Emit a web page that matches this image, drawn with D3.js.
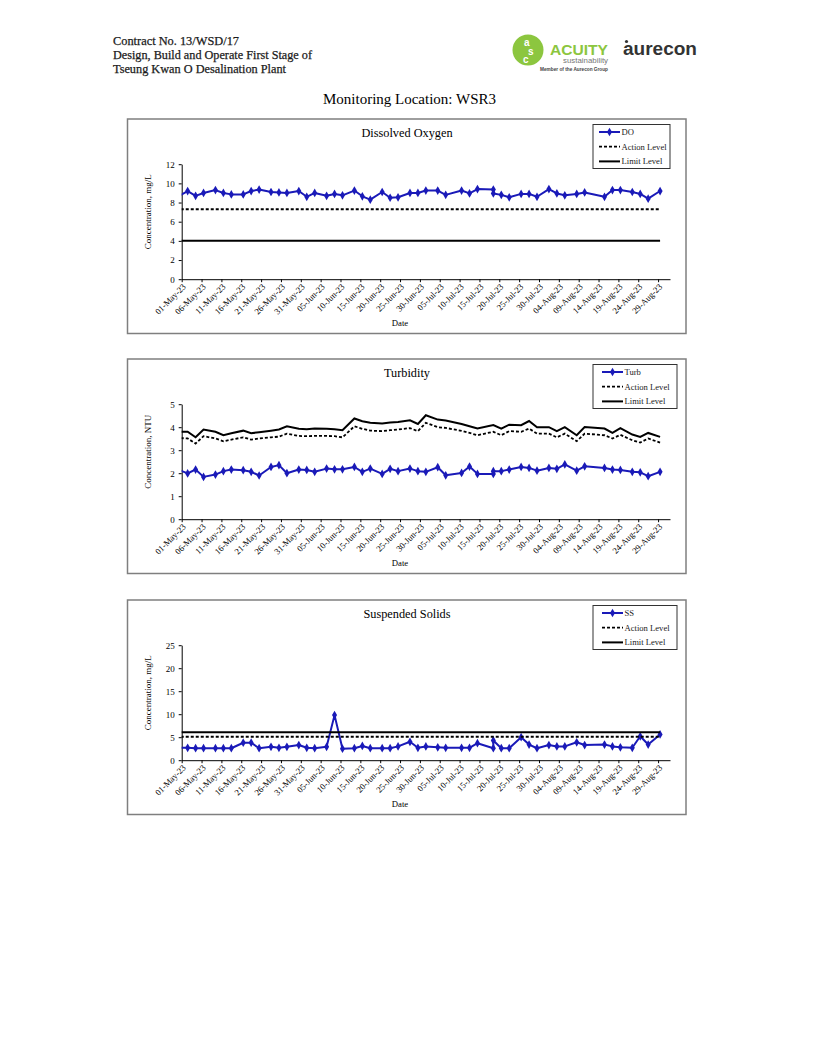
<!DOCTYPE html>
<html><head><meta charset="utf-8">
<script src="https://cdn.jsdelivr.net/npm/d3@7"></script>
<style>body{margin:0;background:#fff;} svg{display:block;}</style>
</head><body>
<svg id="page" width="816" height="1056"></svg>
<script>
// ---------------- DATA ----------------
const headerLines = ["Contract No. 13/WSD/17", "Design, Build and Operate First Stage of", "Tseung Kwan O Desalination Plant"];
const pageTitle = "Monitoring Location: WSR3";

const sampleDates = ["2023-04-29","2023-05-02","2023-05-04","2023-05-06","2023-05-09","2023-05-11","2023-05-13",
  "2023-05-16","2023-05-18","2023-05-20","2023-05-23","2023-05-25","2023-05-27","2023-05-30","2023-06-01",
  "2023-06-03","2023-06-06","2023-06-08","2023-06-10","2023-06-13","2023-06-15","2023-06-17","2023-06-20",
  "2023-06-22","2023-06-24","2023-06-27","2023-06-29","2023-07-01","2023-07-04","2023-07-06","2023-07-10",
  "2023-07-12","2023-07-14","2023-07-18","2023-07-18","2023-07-20","2023-07-22","2023-07-25","2023-07-27",
  "2023-07-29","2023-08-01","2023-08-03","2023-08-05","2023-08-08","2023-08-10","2023-08-15","2023-08-17",
  "2023-08-19","2023-08-22","2023-08-24","2023-08-26","2023-08-29"];

const doValues = [8.5, 9.2,8.7,9.0,9.3,9.0,8.85,8.85,9.2,9.35,9.1,9.05,9.0,9.2,8.6,9.0,8.7,8.9,8.75,9.25,8.65,
  8.3,9.1,8.5,8.55,9.0,9.0,9.25,9.25,8.8,9.25,8.95,9.4,9.35,8.95,8.8,8.55,8.9,8.9,8.6,9.4,8.95,8.75,8.9,9.05,
  8.6,9.3,9.3,9.1,8.9,8.4,9.2];
const doActionLevel = 7.3;
const doLimitLevel = 4.0;

const turbValues = [2.2, 1.99,2.16,1.84,1.94,2.09,2.16,2.13,2.06,1.90,2.27,2.35,2.00,2.16,2.14,2.06,2.20,2.17,
  2.17,2.27,2.06,2.20,1.97,2.19,2.09,2.20,2.09,2.06,2.26,1.91,2.01,2.29,1.97,1.97,2.09,2.09,2.16,2.27,2.23,
  2.11,2.23,2.19,2.38,2.11,2.30,2.23,2.16,2.14,2.06,2.04,1.87,2.06];
const turbAction = [3.54, 3.51,3.29,3.61,3.51,3.39,3.46,3.56,3.46,3.51,3.56,3.59,3.72,3.62,3.61,3.62,3.62,3.61,
  3.56,4.04,3.93,3.85,3.83,3.87,3.90,3.96,3.83,4.19,4.00,3.97,3.84,3.75,3.65,3.80,3.80,3.65,3.83,3.80,3.94,
  3.72,3.72,3.56,3.72,3.39,3.72,3.65,3.51,3.67,3.43,3.33,3.51,3.33];
const turbLimit = [3.80, 3.80,3.56,3.90,3.80,3.65,3.74,3.85,3.74,3.78,3.85,3.90,4.04,3.93,3.91,3.94,3.93,3.91,
  3.87,4.38,4.26,4.19,4.16,4.20,4.23,4.30,4.14,4.52,4.33,4.29,4.14,4.04,3.94,4.09,4.09,3.94,4.11,4.09,4.27,
  4.00,4.00,3.83,4.00,3.65,4.01,3.94,3.75,3.96,3.68,3.58,3.75,3.58];

const ssValues = [2.7, 2.7,2.6,2.6,2.6,2.6,2.6,3.8,3.8,2.6,2.9,2.7,2.9,3.3,2.7,2.6,2.9,9.8,2.5,2.6,3.1,2.6,2.6,
  2.6,3.0,4.0,2.7,3.0,2.8,2.7,2.7,2.7,3.7,2.6,4.3,2.6,2.6,5.0,3.4,2.6,3.3,3.0,3.0,3.9,3.3,3.4,3.0,2.8,2.7,
  5.2,3.4,5.6];
const ssActionLevel = 5.1;
const ssLimitLevel = 6.1;

const xAxisBounds = ["2023-05-01", "2023-09-01"];
const xTickLabels = ["01-May-23","06-May-23","11-May-23","16-May-23","21-May-23","26-May-23","31-May-23",
  "05-Jun-23","10-Jun-23","15-Jun-23","20-Jun-23","25-Jun-23","30-Jun-23","05-Jul-23","10-Jul-23","15-Jul-23",
  "20-Jul-23","25-Jul-23","30-Jul-23","04-Aug-23","09-Aug-23","14-Aug-23","19-Aug-23","24-Aug-23","29-Aug-23"];
const doYTicks = [0,2,4,6,8,10,12];
const turbYTicks = [0,1,2,3,4,5];
const ssYTicks = [0,5,10,15,20,25];
const levelNames = ["Action Level", "Limit Level"];

// ---------------- DRAW ----------------
const svg = d3.select("#page");
const serif = "'Liberation Serif', 'Times New Roman', serif";
const sans = "'Liberation Sans', Arial, sans-serif";
const blue = "#1a1ab8";

// header
const headerWidths = [126, 199, 173];
headerLines.forEach((t, i) => {
  svg.append("text").attr("x", 113).attr("y", 45 + i * 14.2)
    .attr("font-family", serif).attr("font-size", 12.5).attr("fill", "#1a1a1a")
    .attr("textLength", headerWidths[i]).attr("lengthAdjust", "spacingAndGlyphs")
    .attr("stroke", "#1a1a1a").attr("stroke-width", 0.25)
    .text(t);
});

// logos
const logo = svg.append("g");
logo.append("circle").attr("cx", 528).attr("cy", 50).attr("r", 15.5).attr("fill", "#8cc63f");
const mono = logo.append("text").attr("font-family", sans).attr("font-weight", "bold")
  .attr("font-size", 10).attr("fill", "#fff");
mono.append("tspan").attr("x", 524).attr("y", 46).text("a");
mono.append("tspan").attr("x", 528).attr("y", 55).text("s");
mono.append("tspan").attr("x", 523).attr("y", 63).text("c");
logo.append("text").attr("x", 550).attr("y", 54.5).attr("font-family", sans).attr("font-weight", "bold")
  .attr("font-size", 15).attr("fill", "#8cc63f").attr("textLength", 58).attr("lengthAdjust", "spacingAndGlyphs").text("ACUITY");
logo.append("text").attr("x", 563).attr("y", 62.5).attr("font-family", sans)
  .attr("font-size", 7).attr("fill", "#777").attr("textLength", 45).attr("lengthAdjust", "spacingAndGlyphs").text("sustainability");
logo.append("text").attr("x", 540).attr("y", 71).attr("font-family", sans).attr("font-weight", "bold")
  .attr("font-size", 4.5).attr("fill", "#444").attr("textLength", 68).attr("lengthAdjust", "spacingAndGlyphs").text("Member of the Aurecon Group");
logo.append("text").attr("x", 623).attr("y", 54.5).attr("font-family", sans).attr("font-weight", "bold")
  .attr("font-size", 18).attr("fill", "#333").attr("textLength", 74).attr("lengthAdjust", "spacingAndGlyphs").text("aurecon");
logo.append("circle").attr("cx", 626.5).attr("cy", 41.5).attr("r", 1.6).attr("fill", "#333");

// page title
svg.append("text").attr("x", 409.5).attr("y", 104.3).attr("text-anchor", "middle")
  .attr("font-family", serif).attr("font-size", 15).attr("fill", "#000").text(pageTitle);

const parseDate = d3.timeParse("%Y-%m-%d");
const parseTick = d3.timeParse("%d-%b-%y");
const sampleTime = s => d3.timeHour.offset(parseDate(s), 12);
const xTickDates = xTickLabels.map(parseTick);
const xDomain = xAxisBounds.map(parseDate);

const charts = [
  { key: "do", top: 119, title: "Dissolved Oxygen", yLabel: "Concentration, mg/L", yTicks: doYTicks,
    name: "DO", values: doValues, action: [doActionLevel, doActionLevel], limit: [doLimitLevel, doLimitLevel],
    constant: true, legendW: 77 },
  { key: "turb", top: 359, title: "Turbidity", yLabel: "Concentration, NTU", yTicks: turbYTicks,
    name: "Turb", values: turbValues, action: turbAction, limit: turbLimit, constant: false, legendW: 84 },
  { key: "ss", top: 600, title: "Suspended Solids", yLabel: "Concentration, mg/L", yTicks: ssYTicks,
    name: "SS", values: ssValues, action: [ssActionLevel, ssActionLevel], limit: [ssLimitLevel, ssLimitLevel],
    constant: true, legendW: 84 }
];

const plotLeft = 181.7, plotRight = 670, plotH = 115;
const defs = svg.append("defs");

charts.forEach(cfg => {
  const top = cfg.top;
  const g = svg.append("g");
  g.append("rect").attr("x", 127.5).attr("y", top).attr("width", 558.5).attr("height", 214.5)
    .attr("fill", "#fff").attr("stroke", "#7f7f7f").attr("stroke-width", 1.5);
  const plotTop = top + 45.2, plotBottom = plotTop + plotH;
  const x = d3.scaleTime().domain(xDomain).range([plotLeft, plotRight]);
  const y = d3.scaleLinear().domain([0, d3.max(cfg.yTicks)]).range([plotBottom, plotTop]);

  defs.append("clipPath").attr("id", "clip-" + cfg.key).append("rect")
    .attr("x", plotLeft).attr("y", plotTop - 20).attr("width", plotRight - plotLeft).attr("height", plotH + 40);

  // title
  g.append("text").attr("x", 407).attr("y", top + 17.5).attr("text-anchor", "middle")
    .attr("font-family", serif).attr("font-size", 12.3).text(cfg.title);

  // axes
  const xAxis = d3.axisBottom(x).tickValues(xTickDates).tickFormat((d, i) => xTickLabels[i])
    .tickSize(3).tickSizeOuter(0);
  const gx = g.append("g").attr("transform", `translate(0,${plotBottom})`).call(xAxis);
  gx.selectAll("text").attr("x", 0).attr("y", 0).attr("dy", "0.35em")
    .attr("transform", "translate(2,6) rotate(-45)").attr("text-anchor", "end")
    .attr("font-family", serif).attr("font-size", 8.7).attr("fill", "#000");
  const yAxis = d3.axisLeft(y).tickValues(cfg.yTicks).tickFormat(d3.format("d"))
    .tickSize(3).tickSizeOuter(0).tickPadding(4);
  const gy = g.append("g").attr("transform", `translate(${plotLeft},0)`).call(yAxis);
  gy.selectAll("text").attr("font-family", serif).attr("font-size", 9).attr("fill", "#000");
  [gx, gy].forEach(a => { a.select(".domain").attr("stroke", "#000"); a.selectAll(".tick line").attr("stroke", "#000"); });

  g.append("text").attr("transform", `translate(151,${plotTop + 47.5}) rotate(-90)`).attr("text-anchor", "middle")
    .attr("font-family", serif).attr("font-size", 9).text(cfg.yLabel);
  g.append("text").attr("x", 400).attr("y", top + 206.5).attr("text-anchor", "middle")
    .attr("font-family", serif).attr("font-size", 8.7).text("Date");

  // series
  const clipG = g.append("g").attr("clip-path", `url(#clip-${cfg.key})`);
  const line = d3.line().x(d => x(d.t)).y(d => y(d.v));
  const levelDates = cfg.constant ? [sampleDates[0], sampleDates[sampleDates.length - 1]] : sampleDates;
  const actionPts = cfg.action.map((v, i) => ({ t: sampleTime(levelDates[i]), v }));
  const limitPts = cfg.limit.map((v, i) => ({ t: sampleTime(levelDates[i]), v }));
  const dataPts = cfg.values.map((v, i) => ({ t: sampleTime(sampleDates[i]), v }));

  clipG.append("path").datum(dataPts).attr("d", line).attr("fill", "none").attr("stroke", blue)
    .attr("stroke-width", 2).attr("stroke-linejoin", "round");
  clipG.selectAll("path.mk").data(dataPts).join("path").attr("class", "mk")
    .attr("transform", d => `translate(${x(d.t)},${y(d.v)})`)
    .attr("d", d3.symbol().type(d3.symbolDiamond).size(22)).attr("fill", blue);
  clipG.append("path").datum(actionPts).attr("d", line).attr("fill", "none").attr("stroke", "#000")
    .attr("stroke-width", 1.8).attr("stroke-dasharray", "3,2");
  clipG.append("path").datum(limitPts).attr("d", line).attr("fill", "none").attr("stroke", "#000")
    .attr("stroke-width", 2);

  // legend
  const lx = 593, ly = top + 5.5;
  const lg = g.append("g");
  lg.append("rect").attr("x", lx).attr("y", ly).attr("width", cfg.legendW).attr("height", 44)
    .attr("fill", "#fff").attr("stroke", "#333").attr("stroke-width", 1);
  const s0 = lx + (cfg.key === "do" ? 6 : 9), s1 = s0 + 21;
  const names = [cfg.name].concat(levelNames);
  names.forEach((n, i) => {
    const yy = ly + 7.5 + i * 14.7;
    const ln = lg.append("line").attr("x1", s0).attr("x2", s1).attr("y1", yy).attr("y2", yy)
      .attr("stroke", i === 0 ? blue : "#000").attr("stroke-width", i === 0 ? 2 : (i === 1 ? 1.8 : 2));
    if (i === 1) ln.attr("stroke-dasharray", "3,2");
    if (i === 0) lg.append("path").attr("transform", `translate(${(s0 + s1) / 2},${yy})`)
      .attr("d", d3.symbol().type(d3.symbolDiamond).size(22)).attr("fill", blue);
    lg.append("text").attr("x", s1 + 1.5).attr("y", yy).attr("dy", "0.33em")
      .attr("font-family", serif).attr("font-size", 8.6).attr("fill", "#222").text(n);
  });
});
</script>
</body></html>
